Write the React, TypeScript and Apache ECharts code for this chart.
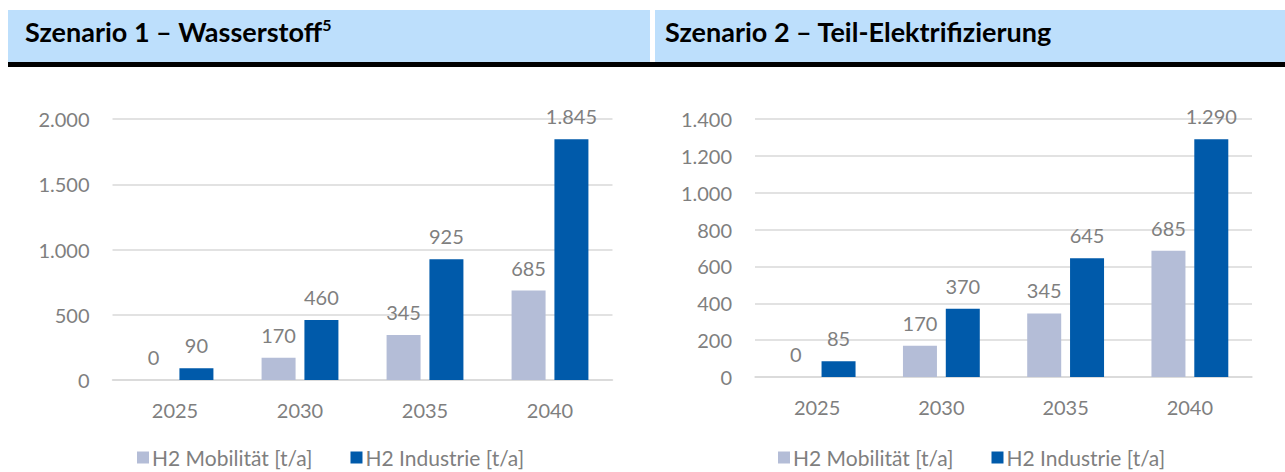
import React, { useEffect, useRef } from "react";
import * as echarts from "echarts";

const years = ["2025", "2030", "2035", "2040"];
const mobilitaet1 = [0, 170, 345, 685];
const industrie1 = [90, 460, 925, 1845];
const mobilitaet2 = [0, 170, 345, 685];
const industrie2 = [85, 370, 645, 1290];
const seriesNames = ["H2 Mobilität [t/a]", "H2 Industrie [t/a]"];
const titles = ["Szenario 1 – Wasserstoff", "Szenario 2 – Teil-Elektrifizierung"];

const LIGHT = "#B4BDD7";
const DARK = "#005AAA";
const GRAY = "#7F7F7F";
const FONT = "Lato, 'Open Sans', sans-serif";

const fmt = (v: number) => String(v).replace(/\B(?=(\d{3})+(?!\d))/g, ".");

export default function App() {
  const ref = useRef<HTMLDivElement>(null);
  useEffect(() => {
    if (!ref.current) return;
    const chart = echarts.init(ref.current, undefined, { renderer: "svg" });
    const labelCfg = {
      show: true,
      position: "top",
      distance: 13,
      color: GRAY,
      fontSize: 20,
      fontFamily: FONT,
      formatter: (p: any) => fmt(p.value),
    };
    const xAxisCfg = (gi: number) => ({
      type: "category",
      gridIndex: gi,
      data: years,
      axisLine: { show: true, lineStyle: { color: "#D9D9D9", width: 1.5 } },
      axisTick: { show: false },
      axisLabel: { color: GRAY, fontSize: 20, fontFamily: FONT, margin: 20 },
    });
    const yAxisCfg = (gi: number, max: number, interval: number) => ({
      type: "value",
      gridIndex: gi,
      min: 0,
      max,
      interval,
      axisLine: { show: false },
      axisTick: { show: false },
      splitLine: { lineStyle: { color: "#D9D9D9", width: 1.5 } },
      axisLabel: {
        color: GRAY,
        fontSize: 20,
        fontFamily: FONT,
        margin: 23,
        formatter: (v: number) => fmt(v),
      },
    });
    const bar = (name: string, data: number[], color: string, gi: number) => ({
      type: "bar",
      name,
      data,
      xAxisIndex: gi,
      yAxisIndex: gi,
      barWidth: 34,
      barGap: "26%",
      itemStyle: { color },
      label: labelCfg,
    });
    const legendText = {
      color: GRAY,
      fontSize: 21,
      fontFamily: FONT,
      padding: [0, 0, 0, -2],
    };
    chart.setOption({
      animation: false,
      textStyle: { fontFamily: FONT },
      graphic: [
        { type: "rect", shape: { x: 8, y: 10, width: 642, height: 52 }, style: { fill: "#BDDFFC" } },
        { type: "rect", shape: { x: 655, y: 10, width: 630, height: 52 }, style: { fill: "#BDDFFC" } },
        { type: "rect", shape: { x: 8, y: 62, width: 1277, height: 5 }, style: { fill: "#000000" } },
        {
          type: "text",
          x: 25,
          y: 31,
          style: {
            text: "{t|" + titles[0] + "}{s|5}",
            verticalAlign: "middle",
            rich: {
              t: { fontSize: 27, fontWeight: "bold", fill: "#000", fontFamily: FONT },
              s: { fontSize: 16, fontWeight: "bold", fill: "#000", fontFamily: FONT, verticalAlign: "top", padding: [0, 0, 13, 0] },
            },
          },
        },
        {
          type: "text",
          x: 665,
          y: 31,
          style: {
            text: titles[1],
            verticalAlign: "middle",
            fontSize: 27,
            fontWeight: "bold",
            fill: "#000",
            fontFamily: FONT,
          },
        },
      ],
      grid: [
        { left: 112.5, top: 119, width: 500, height: 261 },
        { left: 755, top: 119, width: 497, height: 258 },
      ],
      xAxis: [xAxisCfg(0), xAxisCfg(1)],
      yAxis: [yAxisCfg(0, 2000, 500), yAxisCfg(1, 1400, 200)],
      legend: [
        {
          left: 132,
          top: 442,
          itemWidth: 12,
          itemHeight: 12,
          itemGap: 38,
          icon: "rect",
          data: seriesNames,
          textStyle: legendText,
        },
        {
          left: 773,
          top: 442,
          itemWidth: 12,
          itemHeight: 12,
          itemGap: 38,
          icon: "rect",
          data: seriesNames,
          textStyle: legendText,
        },
      ],
      series: [
        bar(seriesNames[0], mobilitaet1, LIGHT, 0),
        bar(seriesNames[1], industrie1, DARK, 0),
        bar(seriesNames[0], mobilitaet2, LIGHT, 1),
        bar(seriesNames[1], industrie2, DARK, 1),
      ],
    });
    return () => chart.dispose();
  }, []);
  return (
    <div
      ref={ref}
      style={{ position: "absolute", left: 0, top: 0, width: 1285, height: 472 }}
    />
  );
}
